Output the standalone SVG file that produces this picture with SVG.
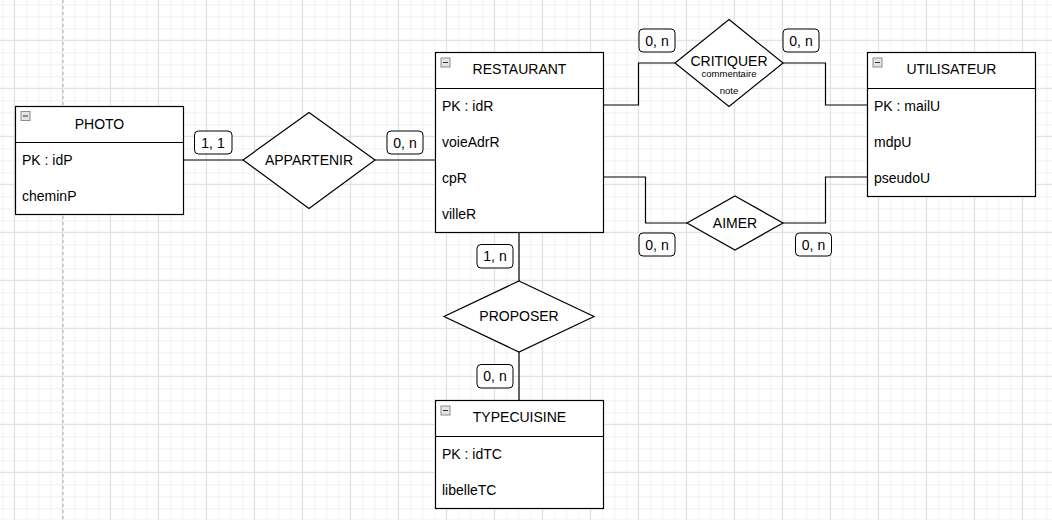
<svg xmlns="http://www.w3.org/2000/svg" width="1052" height="520" viewBox="0 0 1052 520">
<defs>
<pattern id="minor" patternUnits="userSpaceOnUse" x="2.3" y="4.3" width="12" height="12"><path d="M0 0.5H12M0.5 0V12" stroke="#f2f2f2" stroke-width="1" fill="none"/></pattern>
<pattern id="major" patternUnits="userSpaceOnUse" x="13.8" y="39.8" width="48" height="48"><path d="M0 0.5H48M0.5 0V48" stroke="#dedede" stroke-width="1" fill="none"/></pattern>
<g id="icon"><rect x="0.5" y="0.5" width="9" height="9" fill="#e4e4e4" stroke="#8c8c8c"/><path d="M2.5 5H7.5" stroke="#333" stroke-width="1"/></g>
</defs>
<style>
text{font-family:"Liberation Sans",Arial,sans-serif;fill:#000;}
.t{font-size:14px;}
.c{text-anchor:middle;}
.s{font-size:9.5px;}
.box{fill:#fff;stroke:#000;stroke-width:1.2;}
.dia{fill:#fff;stroke:#000;stroke-width:1.2;}
.lbl{fill:#fff;stroke:#000;stroke-width:1;}
.con{fill:none;stroke:#000;stroke-width:1.2;}
</style>
<rect width="1052" height="520" fill="#fff"/>
<rect width="1052" height="520" fill="url(#minor)"/>
<rect width="1052" height="520" fill="url(#major)"/>
<line x1="63" y1="0" x2="63" y2="520" stroke="#b0b0b0" stroke-width="1" stroke-dasharray="3 3"/>

<g id="connectors">
<path class="con" d="M183 160H243M375 160H435"/>
<path class="con" d="M603 105H638.5V63H675M783 63H825.5V105H867"/>
<path class="con" d="M603 177H645.5V223H687M783 223H825.5V177H867"/>
<path class="con" d="M519 232V281M519 352V400"/>
</g>

<g id="labels">
<rect class="lbl" x="194.5" y="131" width="37.5" height="23" rx="4"/><text class="t c" x="213" y="147.5">1, 1</text>
<rect class="lbl" x="387" y="131" width="36" height="23" rx="4"/><text class="t c" x="405" y="147.5">0, n</text>
<rect class="lbl" x="639" y="29" width="36" height="23" rx="4"/><text class="t c" x="657" y="45.5">0, n</text>
<rect class="lbl" x="783" y="29" width="36" height="23" rx="4"/><text class="t c" x="801" y="45.5">0, n</text>
<rect class="lbl" x="639" y="233" width="36" height="23" rx="4"/><text class="t c" x="657" y="249.5">0, n</text>
<rect class="lbl" x="795.5" y="233" width="36" height="23" rx="4"/><text class="t c" x="813.5" y="249.5">0, n</text>
<rect class="lbl" x="477" y="244.5" width="36" height="23.5" rx="4"/><text class="t c" x="495" y="261">1, n</text>
<rect class="lbl" x="477" y="364.5" width="36" height="23.5" rx="4"/><text class="t c" x="495" y="381">0, n</text>
</g>

<g id="PHOTO">
<rect class="box" x="15.5" y="106.5" width="168" height="108"/>
<line class="con" x1="15.5" y1="142.5" x2="183.5" y2="142.5"/>
<use href="#icon" x="20.5" y="111"/>
<text class="t c" x="99.5" y="128.5">PHOTO</text>
<text class="t" x="22" y="164.5">PK : idP</text>
<text class="t" x="22" y="200.5">cheminP</text>
</g>

<g id="RESTAURANT">
<rect class="box" x="435.5" y="52.5" width="168" height="180"/>
<line class="con" x1="435.5" y1="88.5" x2="603.5" y2="88.5"/>
<use href="#icon" x="440.5" y="57.5"/>
<text class="t c" x="519.5" y="74">RESTAURANT</text>
<text class="t" x="442" y="110.5">PK : idR</text>
<text class="t" x="442" y="146.5">voieAdrR</text>
<text class="t" x="442" y="182.5">cpR</text>
<text class="t" x="442" y="218.5">villeR</text>
</g>

<g id="UTILISATEUR">
<rect class="box" x="867.5" y="52.5" width="168" height="144"/>
<line class="con" x1="867.5" y1="88.5" x2="1035.5" y2="88.5"/>
<use href="#icon" x="872.5" y="57.5"/>
<text class="t c" x="951.5" y="74">UTILISATEUR</text>
<text class="t" x="874" y="110.5">PK : mailU</text>
<text class="t" x="874" y="146.5">mdpU</text>
<text class="t" x="874" y="182.5">pseudoU</text>
</g>

<g id="TYPECUISINE">
<rect class="box" x="435.5" y="400.5" width="168" height="108"/>
<line class="con" x1="435.5" y1="436.5" x2="603.5" y2="436.5"/>
<use href="#icon" x="440.5" y="405.5"/>
<text class="t c" x="519.5" y="422">TYPECUISINE</text>
<text class="t" x="442" y="458.5">PK : idTC</text>
<text class="t" x="442" y="494.5">libelleTC</text>
</g>

<g id="APPARTENIR">
<polygon class="dia" points="309,112.5 375,160 309,208.5 243,160"/>
<text class="t c" x="309" y="165">APPARTENIR</text>
</g>

<g id="CRITIQUER">
<polygon class="dia" points="729,19.5 783,63 729,106.5 675,63"/>
<text class="t c" x="729" y="66">CRITIQUER</text>
<text class="s c" x="729" y="76.5">commentaire</text>
<text class="s c" x="729" y="93.5">note</text>
</g>

<g id="AIMER">
<polygon class="dia" points="735,196 783,223 735,250 687,223"/>
<text class="t c" x="735" y="227.5">AIMER</text>
</g>

<g id="PROPOSER">
<polygon class="dia" points="519,281 594,316.5 519,352 444,316.5"/>
<text class="t c" x="519" y="321">PROPOSER</text>
</g>
</svg>
